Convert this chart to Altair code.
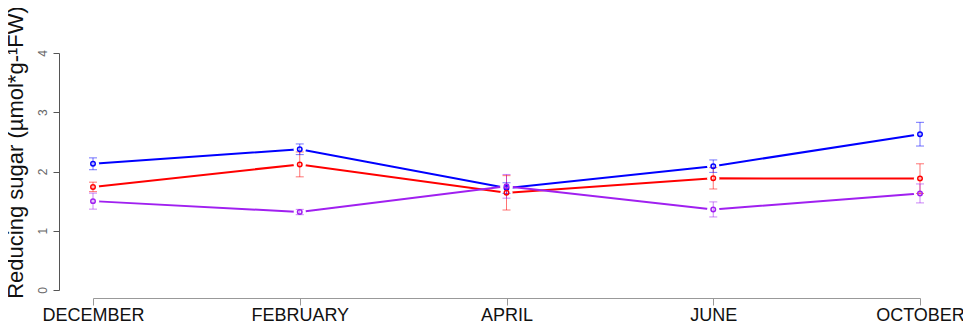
import altair as alt
import pandas as pd

months = ["DECEMBER", "FEBRUARY", "APRIL", "JUNE", "OCTOBER"]
series_names = ["Blue", "Red", "Purple"]
series_colors = ["#0000FF", "#FF0000", "#A020F0"]

blue = [2.13, 2.375, 1.72, 2.09, 2.63]
blue_err = [0.10, 0.09, 0.09, 0.105, 0.20]
red = [1.74, 2.12, 1.64, 1.885, 1.88]
red_err = [0.08, 0.21, 0.29, 0.18, 0.25]
purple = [1.50, 1.316, 1.75, 1.36, 1.63]
purple_err = [0.135, 0.045, 0.20, 0.127, 0.16]

y_ticks = [0, 1, 2, 3, 4]

rows = []
for name, vals, errs in zip(series_names, [blue, red, purple], [blue_err, red_err, purple_err]):
    for m, v, e in zip(months, vals, errs):
        rows.append({"month": m, "series": name, "value": v, "lo": v - e, "hi": v + e})
df = pd.DataFrame(rows)

xenc = alt.X(
    "month:N",
    sort=months,
    scale=alt.Scale(type="point", padding=0),
    axis=alt.Axis(
        title=None, offset=8, tickSize=7, domainColor="#999999", tickColor="#999999",
        labelFontSize=18, labelColor="#111111", labelFont="Liberation Sans",
        labelPadding=1, labelAngle=0, labelOverlap=False, labelBound=False, labelFlush=False,
    ),
)
yscale = alt.Scale(domain=[0, 4], nice=False, zero=False)
yaxis = alt.Axis(
    title="Reducing sugar (µmol*g-¹FW)", values=y_ticks, format="d", offset=34, grid=False,
    tickSize=6, domainColor="#555555", tickColor="#555555",
    labelAngle=270, labelFontSize=12, labelColor="#666666", labelFont="Liberation Sans",
    labelPadding=4,
    titleFont="Liberation Sans", titleFontSize=22, titleFontWeight="normal", titleColor="#111111",
    titleAngle=270, titleX=-44, titleY=99, titleAlign="center", titleBaseline="middle",
)
color = alt.Color("series:N", scale=alt.Scale(domain=series_names, range=series_colors), legend=None)

base = alt.Chart(df)

lines = base.mark_line(strokeWidth=2).encode(
    x=xenc, y=alt.Y("value:Q", scale=yscale, axis=yaxis), color=color, detail="series:N"
)
gaps = base.mark_circle(size=150, color="white", opacity=1).encode(
    x=alt.X("month:N", sort=months), y=alt.Y("value:Q")
)
bars = base.mark_rule(strokeWidth=1, opacity=0.55).encode(
    x=alt.X("month:N", sort=months), y=alt.Y("lo:Q"), y2="hi:Q", color=color
)
caps_lo = base.mark_tick(orient="horizontal", size=8, thickness=1, opacity=0.55).encode(
    x=alt.X("month:N", sort=months), y=alt.Y("lo:Q"), color=color
)
caps_hi = base.mark_tick(orient="horizontal", size=8, thickness=1, opacity=0.55).encode(
    x=alt.X("month:N", sort=months), y=alt.Y("hi:Q"), color=color
)
points = base.mark_point(shape="circle", filled=False, size=20, strokeWidth=1.5, opacity=1).encode(
    x=alt.X("month:N", sort=months), y=alt.Y("value:Q"), color=color
)

chart = alt.layer(lines, gaps, bars, caps_lo, caps_hi, points).properties(
    width=827, height=237,
    autosize=alt.AutoSizeParams(type="none"),
    padding={"left": 85, "top": 45, "right": 43, "bottom": 34},
    background="white",
).configure_view(stroke=None)

chart.save("out.html", embed_options={"renderer": "svg", "actions": False})
